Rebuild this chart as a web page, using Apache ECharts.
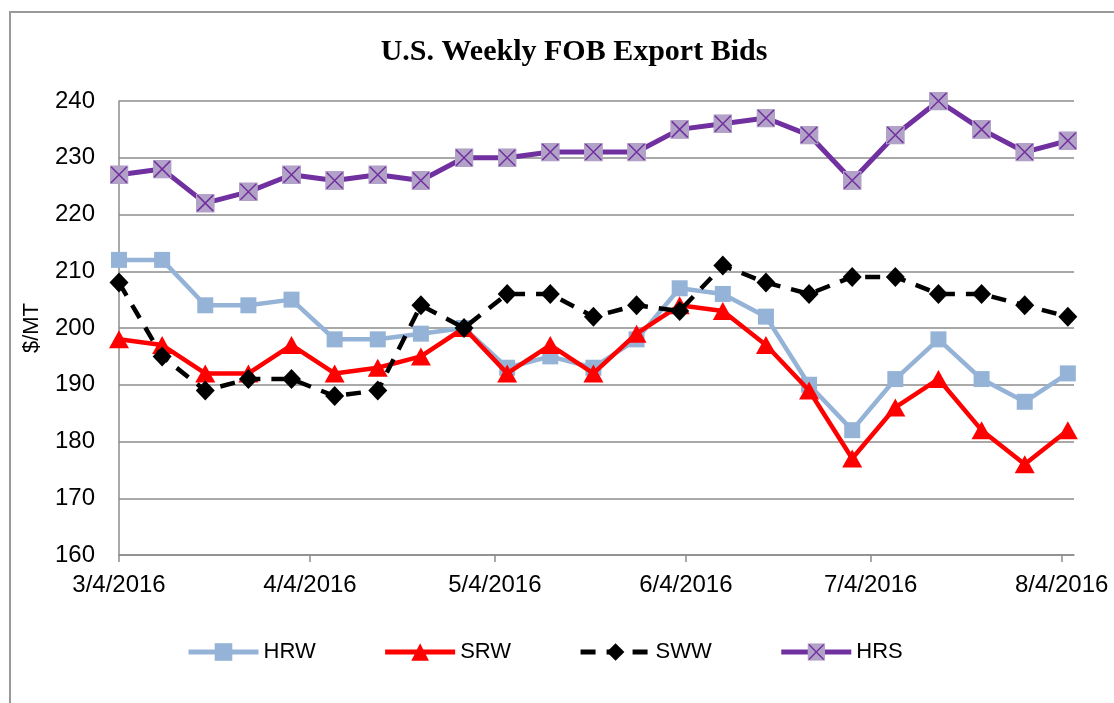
<!DOCTYPE html>
<html>
<head>
<meta charset="utf-8">
<title>U.S. Weekly FOB Export Bids</title>
<script src="https://cdn.jsdelivr.net/npm/echarts@6/dist/echarts.min.js"></script>
<style>
  html, body { margin: 0; padding: 0; background: #fff; }
  #chart { width: 1114px; height: 703px; }
</style>
</head>
<body>
<div id="chart"></div>
<script>
// weekly bid dates
var weeks = [
  '2016-03-04', '2016-03-11', '2016-03-18', '2016-03-25', '2016-04-01',
  '2016-04-08', '2016-04-15', '2016-04-22', '2016-04-29', '2016-05-06',
  '2016-05-13', '2016-05-20', '2016-05-27', '2016-06-03', '2016-06-10',
  '2016-06-17', '2016-06-24', '2016-07-01', '2016-07-08', '2016-07-15',
  '2016-07-22', '2016-07-29', '2016-08-05'
]
var hrw = [212, 212, 204, 204, 205, 198, 198, 199, 200, 193, 195, 193, 198, 207, 206, 202, 190, 182, 191, 198, 191, 187, 192]
var srw = [198, 197, 192, 192, 197, 192, 193, 195, 200, 192, 197, 192, 199, 204, 203, 197, 189, 177, 186, 191, 182, 176, 182]
var sww = [208, 195, 189, 191, 191, 188, 189, 204, 200, 206, 206, 202, 204, 203, 211, 208, 206, 209, 209, 206, 206, 204, 202]
var hrs = [227, 228, 222, 224, 227, 226, 227, 226, 230, 230, 231, 231, 231, 235, 236, 237, 234, 226, 234, 240, 235, 231, 233]
var xTickLabels = ['3/4/2016', '4/4/2016', '5/4/2016', '6/4/2016', '7/4/2016', '8/4/2016']
var xMax = '8/6/2016'
var yMin = 160
var yMax = 240
var yStep = 10

// dates as day numbers (UTC), so the axis is linear in days
function toDay(s) {
  var y, m, d
  if (s.indexOf('-') > 0) {
    var p = s.split('-'); y = +p[0]; m = +p[1]; d = +p[2]
  } else {
    var q = s.split('/'); y = +q[2]; m = +q[0]; d = +q[1]
  }
  return Date.UTC(y, m - 1, d) / 86400000
}
function pairs(vals) {
  return vals.map(function (v, i) { return [toDay(weeks[i]), v] })
}
var tickDays = xTickLabels.map(toDay)

// square with an X for HRS
var hrsSvg = '<svg xmlns="http://www.w3.org/2000/svg" width="38" height="38" viewBox="0 0 38 38">' +
  '<rect x="0" y="0" width="38" height="38" fill="#B3A2C7"/>' +
  '<path d="M3,3 L35,35 M35,3 L3,35" stroke="#7030A0" stroke-width="3"/></svg>'
var hrsSymbol = 'image://data:image/svg+xml;charset=utf-8,' + encodeURIComponent(hrsSvg)

var gridColor = '#8c8c8c'
var textFont = 'Liberation Sans, Arial, sans-serif'

var chart = echarts.init(document.getElementById('chart'), null, { renderer: 'canvas' })
chart.setOption({
  animation: false,
  backgroundColor: '#fff',
  graphic: [
    {
      type: 'rect',
      shape: { x: 10, y: 12, width: 1200, height: 800 },
      style: { fill: 'none', stroke: '#999', lineWidth: 2 },
      silent: true
    }
  ],
  title: {
    text: 'U.S. Weekly FOB Export Bids',
    left: 569,
    top: 32,
    textAlign: 'center',
    textStyle: {
      fontFamily: 'Liberation Serif, Times New Roman, serif',
      fontWeight: 'bold',
      fontSize: 30,
      color: '#000'
    }
  },
  grid: {
    left: 119,
    right: 40,
    top: 101,
    bottom: 148
  },
  legend: {
    data: ['HRW', 'SRW', 'SWW', 'HRS'],
    left: 181,
    top: 636,
    itemWidth: 70,
    itemHeight: 22,
    itemGap: 67,
    lineStyle: { width: 5 },
    textStyle: {
      fontFamily: textFont,
      fontSize: 22,
      color: '#000'
    }
  },
  xAxis: {
    type: 'value',
    min: tickDays[0],
    max: toDay(xMax),
    axisLine: { show: true, lineStyle: { color: gridColor, width: 1.5 } },
    axisTick: {
      show: true,
      customValues: tickDays,
      length: 7,
      lineStyle: { color: gridColor, width: 1.5 }
    },
    axisLabel: {
      customValues: tickDays,
      margin: 18,
      fontFamily: textFont,
      fontSize: 24,
      color: '#000',
      formatter: function (value) {
        var i = tickDays.indexOf(value)
        return i >= 0 ? xTickLabels[i] : ''
      }
    },
    splitLine: { show: false }
  },
  yAxis: {
    type: 'value',
    min: yMin,
    max: yMax,
    interval: yStep,
    name: '$/MT',
    nameLocation: 'middle',
    nameGap: 76,
    nameRotate: 90,
    nameTextStyle: {
      fontFamily: textFont,
      fontSize: 22,
      color: '#000'
    },
    axisLine: { show: true, lineStyle: { color: gridColor, width: 1.5 } },
    axisTick: { show: false },
    axisLabel: {
      margin: 24,
      fontFamily: textFont,
      fontSize: 24,
      color: '#000'
    },
    splitLine: { show: true, lineStyle: { color: gridColor, width: 1.5 } }
  },
  series: [
    {
      name: 'HRW',
      type: 'line',
      data: pairs(hrw),
      symbol: 'rect',
      symbolSize: 16,
      itemStyle: { color: '#95B3D7' },
      lineStyle: { color: '#95B3D7', width: 4.5 },
      z: 2
    },
    {
      name: 'SRW',
      type: 'line',
      data: pairs(srw),
      symbol: 'triangle',
      symbolSize: [20, 18],
      itemStyle: { color: '#FF0000' },
      lineStyle: { color: '#FF0000', width: 4.5 },
      z: 3
    },
    {
      name: 'SWW',
      type: 'line',
      data: pairs(sww),
      symbol: 'diamond',
      symbolSize: [19, 20],
      itemStyle: { color: '#000000' },
      lineStyle: { color: '#000000', width: 4.5, type: [15, 11] },
      z: 4
    },
    {
      name: 'HRS',
      type: 'line',
      data: pairs(hrs),
      symbol: hrsSymbol,
      symbolSize: 19,
      itemStyle: { color: '#7030A0' },
      lineStyle: { color: '#7030A0', width: 5 },
      z: 5
    }
  ]
})
</script>
</body>
</html>
